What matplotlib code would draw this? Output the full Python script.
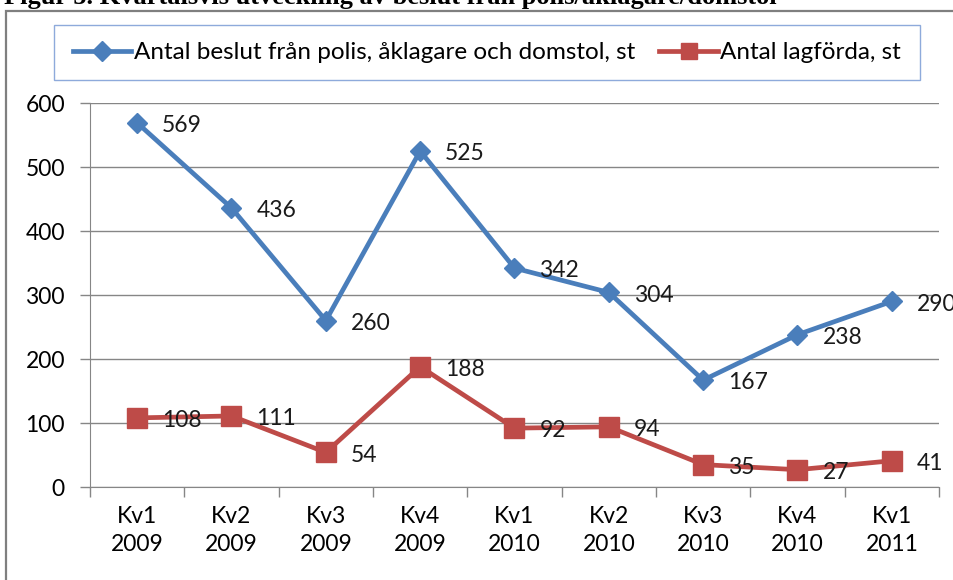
import matplotlib
matplotlib.use("Agg")
from matplotlib import pyplot as plt
from matplotlib.lines import Line2D
from matplotlib.patches import Rectangle

# Data
QUARTERS = ["Kv1\n2009", "Kv2\n2009", "Kv3\n2009", "Kv4\n2009", "Kv1\n2010",
            "Kv2\n2010", "Kv3\n2010", "Kv4\n2010", "Kv1\n2011"]
BESLUT   = [569, 436, 260, 525, 342, 304, 167, 238, 290]
LAGFORDA = [108, 111, 54, 188, 92, 94, 35, 27, 41]
Y_TICKS  = [0, 100, 200, 300, 400, 500, 600]

LABEL_BESLUT   = "Antal beslut från polis, åklagare och domstol, st"
LABEL_LAGFORDA = "Antal lagförda, st"
TITLE = "Figur 5. Kvartalsvis utveckling av beslut från polis/åklagare/domstol"

BLUE = "#4A7EBB"
RED  = "#BE4B48"
GRID = "#868686"
FONT = ["Lato", "DejaVu Sans"]
FS   = 16.5

plt.rcParams["font.family"] = FONT

fig = plt.figure(figsize=(9.54, 5.80), dpi=100)

# Cropped title at the very top (only its lower part shows)
fig.text(0.004, 1 - 4/580, TITLE, family=["Liberation Serif", "DejaVu Serif"],
         weight="bold", fontsize=19, ha="left", va="baseline")

# Outer chart frame (gray), partly outside the image
fig.patches.append(Rectangle((6/954, -0.1), 1.2, 1.1 - 11/580, transform=fig.transFigure,
                             fill=False, edgecolor="#7F7F7F", lw=1.6))

ax = fig.add_axes([90/954, 1 - 487/580, 849/954, (487 - 103)/580])
x = list(range(len(QUARTERS)))

ax.plot(x, BESLUT, color=BLUE, lw=3.4, marker="D", markersize=10.5,
        markeredgecolor=BLUE, zorder=3, clip_on=False)
ax.plot(x, LAGFORDA, color=RED, lw=3.4, marker="s", markersize=15,
        markeredgecolor=RED, zorder=3, clip_on=False)

for i in x:
    ax.annotate(str(BESLUT[i]), (i, BESLUT[i]), xytext=(18, -2), textcoords="offset points",
                ha="left", va="center", fontsize=FS, color="#1A1A1A", zorder=4,
                annotation_clip=False)
    ax.annotate(str(LAGFORDA[i]), (i, LAGFORDA[i]), xytext=(18, -2), textcoords="offset points",
                ha="left", va="center", fontsize=FS, color="#1A1A1A", zorder=4,
                annotation_clip=False)

ax.set_xlim(-0.5, len(QUARTERS) - 0.5)
ax.set_ylim(0, 600)
ax.set_yticks(Y_TICKS)
ax.set_xticks(x)
ax.set_xticklabels(QUARTERS)
ax.set_xticks([i - 0.5 for i in range(len(QUARTERS) + 1)], minor=True)
ax.tick_params(axis="x", which="major", length=0, pad=14, labelsize=FS)
ax.tick_params(axis="x", which="minor", length=7, color=GRID, width=1)
ax.tick_params(axis="y", length=7, color=GRID, width=1, labelsize=FS, pad=11)
for lab in ax.get_xticklabels():
    lab.set_linespacing(1.4)

ax.grid(axis="y", color=GRID, lw=1)
ax.set_axisbelow(True)
for s in ["top", "right"]:
    ax.spines[s].set_visible(False)
ax.spines["left"].set_color(GRID)
ax.spines["bottom"].set_color(GRID)

# Legend box across the top
fig.patches.append(Rectangle((54/954, 1 - 80/580), 866/954, 55/580, transform=fig.transFigure,
                             fill=False, edgecolor="#8EAADB", lw=1.0))
handles = [Line2D([], [], color=BLUE, lw=3.4, marker="D", markersize=10.5),
           Line2D([], [], color=RED, lw=3.4, marker="s", markersize=12)]
leg = fig.legend(handles, [LABEL_BESLUT, LABEL_LAGFORDA], ncol=2,
                 loc="center", bbox_to_anchor=(54/954, 1 - 80/580, 866/954, 55/580),
                 fontsize=17.5, frameon=False,
                 handlelength=2.4, handletextpad=0.1, columnspacing=1.0,
                 borderpad=0.3)

fig.savefig("out.png", dpi=100)
